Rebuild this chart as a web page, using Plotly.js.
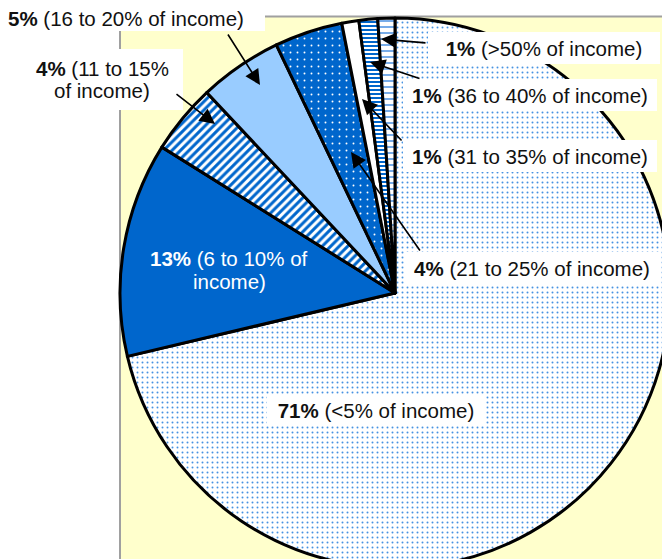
<!DOCTYPE html>
<html>
<head>
<meta charset="utf-8">
<script src="https://cdn.plot.ly/plotly-3.0.1.min.js"></script>
<style>
html,body{margin:0;padding:0;overflow:hidden;background:#fff;}
#chart{width:700px;height:600px;}
</style>
</head>
<body>
<div id="chart"></div>
<script>
// ---- data ----
const categories = ['<5%', '6 to 10%', '11 to 15%', '16 to 20%', '21 to 25%', '31 to 35%', '36 to 40%', '>50%'];
const values = [71.3, 12.6, 4.1, 4.9, 4.0, 1.0, 1.1, 1.0];      // slice sizes
const percentLabels = ['71', '13', '4', '5', '4', '1', '1', '1']; // printed labels

// ---- styles ----
const sliceColors = ['#ffffff', '#0066cc', '#ffffff', '#99ccff', '#0066cc', '#ffffff', '#ffffff', '#ffffff'];
const patShape    = ['.', '', '/', '', '.', '', '-', '-'];
const patFg       = ['#4592e3', '#0066cc', '#0066cc', '#99ccff', '#ffffff', '#ffffff', '#0066cc', '#4a90e2'];
const patBg       = ['#ffffff', '#0066cc', '#ffffff', '#99ccff', '#0066cc', '#ffffff', '#ffffff', '#ffffff'];
const patSize     = [5, 8, 6, 8, 7, 8, 4, 6];
const patSolid    = [0.12, 0.3, 0.5, 0.3, 0.06, 0.3, 0.5, 0.25];

// ---- geometry helpers (pixel -> paper) ----
const W = 700, H = 600, ML = 120, MT = 18, PW = 550, PH = 550;
const X = px => (px - ML) / PW;
const Y = py => 1 - (py - MT) / PH;

const FONT = {family: '"Liberation Sans", Arial, sans-serif', size: 20.5, color: '#111'};
const lab = i => `<b>${percentLabels[i]}%</b> (${categories[i]} of income)`;

const annotations = [];
function box(text, cx, cy, w, h, opts) {
  annotations.push(Object.assign({
    text: text, xref: 'paper', yref: 'paper', x: X(cx), y: Y(cy),
    xanchor: 'center', yanchor: 'middle', showarrow: false,
    font: FONT, bgcolor: 'rgba(0,0,0,0)', borderpad: 0, borderwidth: 0
  }, w ? {width: w} : {}, h ? {height: h} : {}, opts || {}));
}
function arrow(tx, ty, hx, hy) {
  annotations.push({
    text: '', xref: 'paper', yref: 'paper', x: X(hx), y: Y(hy),
    ax: tx - hx, ay: ty - hy, showarrow: true, arrowhead: 2,
    arrowsize: 1.9, arrowwidth: 1.6, arrowcolor: '#000', standoff: 0
  });
}

// labels
box(lab(3), 125.5, 18);
box(`<b>${percentLabels[2]}%</b> (${categories[2]}`, 102.5, 68);
box('of income)', 101.5, 91);
box(lab(7), 544, 48, 232, 32, {bgcolor: '#ffffff'});
box(lab(6), 530, 95, 254, 32, {bgcolor: '#ffffff'});
box(lab(5), 530, 156, 254, 32, {bgcolor: '#ffffff'});
box(lab(4), 532, 268, 254, 32, {bgcolor: '#ffffff'});
box(lab(0), 376, 410, 218, 30, {bgcolor: '#ffffff'});
box(`<b>${percentLabels[1]}%</b> (6 to 10% of`, 228.5, 258, null, null, {font: Object.assign({}, FONT, {color: '#ffffff'})});
box('income)', 229, 281.5, null, null, {font: Object.assign({}, FONT, {color: '#ffffff'})});

// arrows (tail -> head)
arrow(227, 33, 260, 85);
arrow(175, 93, 215, 124);
arrow(427, 43, 381, 39);
arrow(421, 79, 370, 62);
arrow(403, 142, 362, 99);
arrow(421, 252, 351, 152);

const shapes = [
  {type: 'rect', xref: 'paper', yref: 'paper', layer: 'below',
   x0: X(120), x1: X(760), y0: Y(700), y1: Y(16.5),
   fillcolor: '#ffffcc', line: {color: '#a0a0a0', width: 2}},
  {type: 'rect', xref: 'paper', yref: 'paper', layer: 'below',
   x0: X(0), x1: X(265), y0: Y(31), y1: Y(0),
   fillcolor: '#ffffff', line: {width: 0}},
  {type: 'rect', xref: 'paper', yref: 'paper', layer: 'below',
   x0: X(0), x1: X(183), y0: Y(110), y1: Y(49),
   fillcolor: '#ffffff', line: {width: 0}}
];

const trace = {
  type: 'pie',
  labels: categories,
  values: values,
  sort: false,
  direction: 'clockwise',
  rotation: 0,
  textinfo: 'none',
  hoverinfo: 'none',
  showlegend: false,
  domain: {x: [0, 1], y: [0, 1]},
  marker: {
    colors: sliceColors,
    line: {color: '#000000', width: 3},
    pattern: {shape: patShape, fgcolor: patFg, bgcolor: patBg, size: patSize, solidity: patSolid, fillmode: 'replace'}
  }
};

const layout = {
  width: W, height: H,
  margin: {l: ML, t: MT, r: W - ML - PW, b: H - MT - PH, pad: 0},
  paper_bgcolor: '#ffffff',
  showlegend: false,
  shapes: shapes,
  annotations: annotations,
  font: FONT
};

Plotly.newPlot('chart', [trace], layout, {displayModeBar: false, staticPlot: true});
</script>
</body>
</html>
